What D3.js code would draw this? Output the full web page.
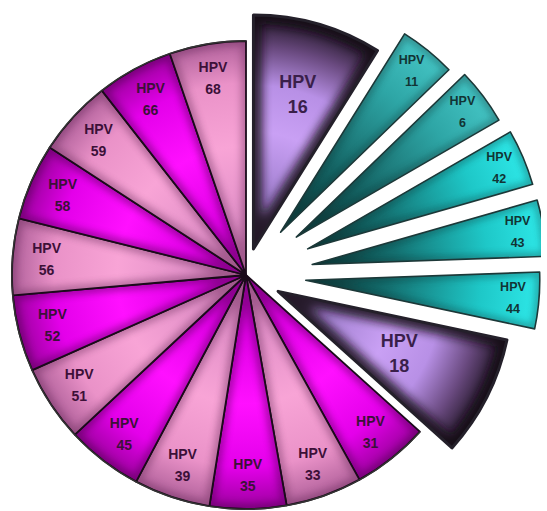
<!DOCTYPE html>
<html><head><meta charset="utf-8">
<script src="https://cdn.jsdelivr.net/npm/d3@7"></script>
<style>html,body{margin:0;padding:0;background:#fff;}svg{display:block}</style>
</head><body>
<svg id="chart" width="547" height="511"></svg>
<script>
// ---- data (clockwise from 12 o'clock) ----
const categories = ["16","11","6","42","43","44","18","31","33","35","39","45","51","52","56","58","59","66","68"];
const shares     = [32, 14, 14, 14, 14, 14, 30, 19, 19, 19, 19, 19, 19, 19, 19, 19, 19, 19, 19];
const groups     = ["main","low","low","low","low","low","main","high","high","high","high","high","high","high","high","high","high","high","high"];
const prefix = "HPV";

// ---- layout / style ----
const cx = 246, cy = 275, R = 234;
const explode = {"16":27,"11":55,"6":63,"42":67,"43":67,"44":60,"18":36};
const labelR  = {"16":161,"18":136,low:208,high:200};
const fontSize = {main:18, low:12.5, high:14};
const lineGap  = {main:25, low:22, high:22};

const data = categories.map((c,i)=>({cat:c, v:shares[i], g:groups[i], i}));
const svg = d3.select("#chart");
const defs = svg.append("defs");

function radial(id, stops){
  const gr = defs.append("radialGradient").attr("id",id)
    .attr("gradientUnits","userSpaceOnUse").attr("cx",0).attr("cy",0).attr("r",R);
  stops.forEach(([o,c])=>gr.append("stop").attr("offset",o).attr("stop-color",c));
}
radial("gMag",[[0,"#b000b4"],[0.25,"#e000e6"],[0.55,"#ff10ff"],[0.82,"#e400ea"],[1,"#9c009e"]]);
radial("gPink",[[0,"#c070a8"],[0.25,"#e290c8"],[0.55,"#f8a4d6"],[0.82,"#ea92c8"],[1,"#b0609a"]]);
radial("gMain",[[0,"#6e5482"],[0.22,"#a07ece"],[0.5,"#c9a0f4"],[0.7,"#b890e6"],[0.86,"#6a4a80"],[1,"#1c1220"]]);
radial("gTealA",[[0,"#0c3a3a"],[0.35,"#156565"],[0.75,"#2ea6a6"],[1,"#44c4c4"]]);
radial("gTealB",[[0,"#0c3a3a"],[0.35,"#147070"],[0.75,"#1ec8c8"],[1,"#2ee8e8"]]);

const blur = defs.append("filter").attr("id","blur").attr("x","-20%").attr("y","-20%").attr("width","140%").attr("height","140%");
blur.append("feGaussianBlur").attr("stdDeviation",5);
const blur2 = defs.append("filter").attr("id","blur2").attr("x","-20%").attr("y","-20%").attr("width","140%").attr("height","140%");
blur2.append("feGaussianBlur").attr("stdDeviation",3.5);
// the original picture is cropped just inside its right edge
defs.append("clipPath").attr("id","frame").append("rect").attr("x",0).attr("y",0).attr("width",541).attr("height",511);

const root = svg.append("g").attr("clip-path","url(#frame)");
const pie = d3.pie().sort(null).value(d=>d.v).startAngle(0).endAngle(2*Math.PI);
const arcs = pie(data);
const arcGen = d3.arc().innerRadius(0).outerRadius(R);

let highIdx = 0;
arcs.forEach((a,k)=>{
  const d = a.data;
  const mid = (a.startAngle + a.endAngle)/2;
  const off = explode[d.cat] || 0;
  const tx = off*Math.sin(mid), ty = -off*Math.cos(mid);
  const g = root.append("g").attr("transform",`translate(${cx+tx},${cy+ty})`);
  const p = arcGen(a);
  let fill, stroke, sw, shadowCol, shadowW, shadowOp, txtCol;
  if(d.g==="main"){ fill="url(#gMain)"; stroke="#24202a"; sw=3; shadowCol="#140a18"; shadowW=18; shadowOp=0.85; txtCol="#3a1f4a"; }
  else if(d.g==="low"){ fill = (d.cat==="11"||d.cat==="6") ? "url(#gTealA)" : "url(#gTealB)"; stroke="#1c3838"; sw=1.6; shadowCol="#0a2a2a"; shadowW=8; shadowOp=0.35; txtCol="#123434"; }
  else { const pink = (highIdx%2===1); highIdx++; fill = pink?"url(#gPink)":"url(#gMag)"; stroke="#1a0a1a"; sw=1.8; shadowCol = pink?"#703060":"#500050"; shadowW=10; shadowOp=0.45; txtCol="#3c1038"; }

  const cid = "clip"+k;
  defs.append("clipPath").attr("id",cid).append("path").attr("d",p);
  g.append("path").attr("d",p).attr("fill",fill);
  g.append("path").attr("d",p).attr("fill","none").attr("stroke",shadowCol)
    .attr("stroke-width",shadowW).attr("opacity",shadowOp)
    .attr("filter", d.g==="main"?"url(#blur)":"url(#blur2)").attr("clip-path",`url(#${cid})`);
  g.append("path").attr("d",p).attr("fill","none").attr("stroke",stroke)
    .attr("stroke-width",sw).attr("stroke-linejoin","round");

  const lr = labelR[d.cat] !== undefined ? labelR[d.cat] : labelR[d.g];
  const lx = lr*Math.sin(mid), ly = -lr*Math.cos(mid);
  const fs = fontSize[d.g], gap = lineGap[d.g];
  const t = g.append("g").attr("font-family","'Liberation Sans', Arial, sans-serif")
    .attr("font-weight","bold").attr("font-size",fs).attr("fill",txtCol).attr("text-anchor","middle");
  t.append("text").attr("x",lx).attr("y",ly-gap/2).attr("dominant-baseline","central").text(prefix);
  t.append("text").attr("x",lx).attr("y",ly+gap/2).attr("dominant-baseline","central").text(d.cat);
});
// dark outer rim of the non-exploded part
root.append("path").attr("transform",`translate(${cx},${cy})`)
  .attr("d", d3.arc().innerRadius(R-0.5).outerRadius(R+1)({startAngle:arcs[7].startAngle,endAngle:2*Math.PI}))
  .attr("fill","#333");
</script>
</body></html>
